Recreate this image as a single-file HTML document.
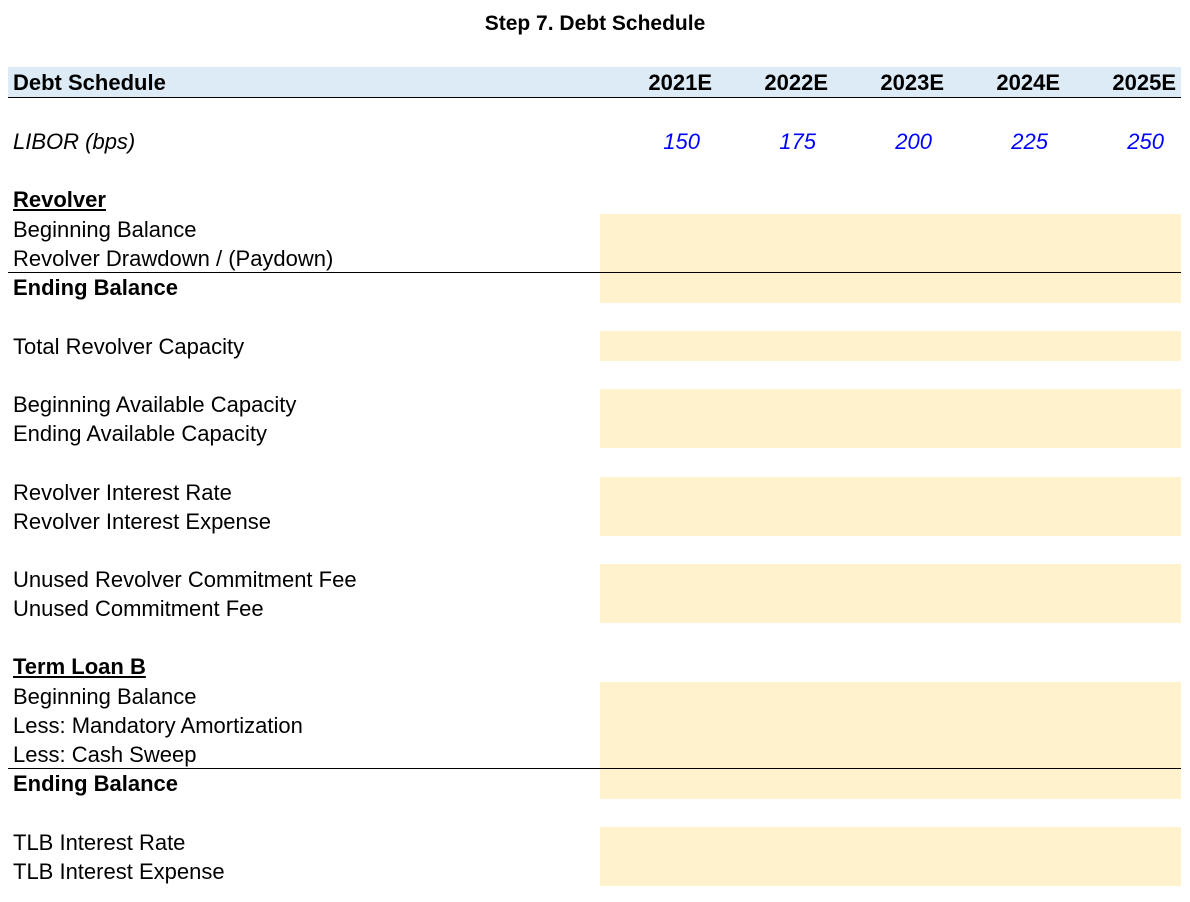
<!DOCTYPE html>
<html><head><meta charset="utf-8">
<style>
body{margin:0;width:1190px;height:902px;background:#fff;font-family:"Liberation Sans",Arial,sans-serif;position:relative;overflow:hidden;color:#000}
.a{position:absolute;white-space:nowrap;font-size:22px;line-height:26px}
.b{font-weight:bold}
.u{text-decoration:underline}
.y{position:absolute;left:600px;width:581px;background:#FFF2CC}
.ln{position:absolute;left:8px;width:1173px;height:1px;background:#000}
.r{text-align:right;width:100px}
</style></head><body>
<div class="a b" style="left:0;width:1190px;text-align:center;top:11px;font-size:21px">Step 7. Debt Schedule</div>
<div style="position:absolute;left:8px;top:67px;width:1173px;height:30px;background:#DDEBF7"></div>
<div class="ln" style="top:97px"></div>
<div class="a b" style="left:13px;top:70px">Debt Schedule</div>
<div id="cols"></div>
<div class="a" style="left:13px;top:129px;font-style:italic">LIBOR (bps)</div>

<div class="y" style="top:214px;height:59px"></div>
<div class="y" style="top:273px;height:30px"></div>
<div class="y" style="top:331px;height:30px"></div>
<div class="y" style="top:389px;height:59px"></div>
<div class="y" style="top:477px;height:59px"></div>
<div class="y" style="top:564px;height:59px"></div>
<div class="y" style="top:682px;height:87px"></div>
<div class="y" style="top:769px;height:30px"></div>
<div class="y" style="top:827px;height:59px"></div>
<div class="ln" style="top:272px"></div>
<div class="ln" style="top:768px"></div>

<div class="a b u" style="left:13px;top:187px">Revolver</div>
<div class="a" style="left:13px;top:217px">Beginning Balance</div>
<div class="a" style="left:13px;top:246px">Revolver Drawdown / (Paydown)</div>
<div class="a b" style="left:13px;top:275px">Ending Balance</div>
<div class="a" style="left:13px;top:334px">Total Revolver Capacity</div>
<div class="a" style="left:13px;top:392px">Beginning Available Capacity</div>
<div class="a" style="left:13px;top:421px">Ending Available Capacity</div>
<div class="a" style="left:13px;top:480px">Revolver Interest Rate</div>
<div class="a" style="left:13px;top:509px">Revolver Interest Expense</div>
<div class="a" style="left:13px;top:567px">Unused Revolver Commitment Fee</div>
<div class="a" style="left:13px;top:596px">Unused Commitment Fee</div>
<div class="a b u" style="left:13px;top:654px">Term Loan B</div>
<div class="a" style="left:13px;top:684px">Beginning Balance</div>
<div class="a" style="left:13px;top:713px">Less: Mandatory Amortization</div>
<div class="a" style="left:13px;top:742px">Less: Cash Sweep</div>
<div class="a b" style="left:13px;top:771px">Ending Balance</div>
<div class="a" style="left:13px;top:830px">TLB Interest Rate</div>
<div class="a" style="left:13px;top:859px">TLB Interest Expense</div>

<script>
const years = ["2021E","2022E","2023E","2024E","2025E"];
const libor = [150,175,200,225,250];
function colRight(i){return 712 + i*116;}
const host=document.getElementById('cols');
years.forEach((y,i)=>{
  const d=document.createElement('div');
  d.className='a b r';
  d.style.left=(colRight(i)-100)+'px';d.style.top='70px';
  d.textContent=y;
  
  
  host.appendChild(d);
});
libor.forEach((v,i)=>{
  const d=document.createElement('div');
  d.className='a r';
  d.style.left=(colRight(i)-100-12)+'px';d.style.top='129px';
  d.style.fontStyle='italic';d.style.color='#0000FF';
  d.textContent=v;
  
  
  host.appendChild(d);
});
</script>
</body></html>
